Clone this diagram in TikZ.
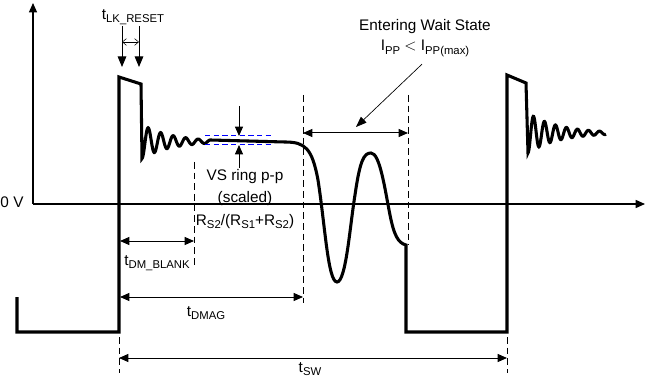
\documentclass[tikz,border=0pt]{standalone}
\usepackage{fontspec}
\setmainfont{Liberation Sans}
\usetikzlibrary{arrows.meta}
\newcommand{\lsub}[1]{\raisebox{-0.45ex}{\fontsize{8.5}{10}\selectfont #1}}

\begin{document}
\begin{tikzpicture}[x=0.75pt, y=-0.75pt,
    wave/.style={line width=2.3pt, line join=miter},
    axis/.style={line width=1pt, -{Triangle[length=7pt, width=6pt]}},
    dimarrow/.style={line width=0.75pt, {Triangle[length=7pt, width=6pt]}-{Triangle[length=7pt, width=6pt]}},
    guide/.style={line width=0.75pt, dash pattern=on 5pt off 3pt},
    level/.style={blue, line width=0.75pt, dash pattern=on 4pt off 2.5pt},
    lbl/.style={font=\fontsize{11.5}{13}\selectfont, inner sep=1pt, align=center}]

  \useasboundingbox (0,0) rectangle (646,381);

  \coordinate (org) at (33,204);
  \coordinate (ytop) at (33,3);
  \coordinate (xend) at (645,204);
  \draw[axis] (org) -- (ytop);
  \draw[axis] (org) -- (xend);
  \node[lbl] (zero) at (12,202) {0 V};

  \draw[wave] (17,297) -- (17,332) -- (119,332) -- (119,77) -- (141,84) -- (142,158)
    -- plot[domain=142:210, samples=180] (\x, {141.5+17*exp(-(\x-142)/29)*cos((\x-142)/12.5*360)})
    -- (285,142)
    .. controls (305,142) and (312,148) .. (318,180)
    .. controls (325,225) and (328,282) .. (337,282)
    .. controls (346,282) and (350,225) .. (355,195)
    .. controls (360,160) and (364,153) .. (371,153)
    .. controls (380,153) and (385,190) .. (390,215)
    .. controls (394,235) and (398,243) .. (406,245)
    -- (406,332) -- (507,332) -- (507,75) -- (526,83) -- (528,153)
    -- plot[domain=528:606, samples=180] (\x, {133+20*exp(-(\x-528)/30)*cos((\x-528)/11*360)});

  % guides
  \coordinate (gA1) at (119,337); \coordinate (gA2) at (119,373);
  \coordinate (gB1) at (194,162); \coordinate (gB2) at (194,268);
  \coordinate (gC1) at (303,95);  \coordinate (gC2) at (303,303);
  \coordinate (gD1) at (408,95);  \coordinate (gD2) at (408,245);
  \coordinate (gE1) at (507,337); \coordinate (gE2) at (507,373);
  \foreach \g in {A,B,C,D,E}
    \draw[guide] (g\g1) -- (g\g2);

  % t_LK_RESET
  \node[lbl] (lk) at (133,17) {t\lsub{LK\_RESET}};
  \coordinate (lkA) at (122,26); \coordinate (lkAe) at (122,67);
  \coordinate (lkB) at (139,26); \coordinate (lkBe) at (139,67);
  \draw[line width=0.75pt, -{Triangle[length=8pt, width=6.5pt]}] (lkA) -- (lkAe);
  \draw[line width=0.75pt, -{Triangle[length=8pt, width=6.5pt]}] (lkB) -- (lkBe);
  \coordinate (lkm1) at (122,42); \coordinate (lkm2) at (139,42);
  \draw[line width=0.4pt, {Straight Barb[length=3pt, width=5pt]}-{Straight Barb[length=3pt, width=5pt]}] (lkm1) -- (lkm2);

  % VS ring
  \coordinate (rt) at (205,136); \coordinate (rte) at (271,136);
  \coordinate (rb) at (205,145); \coordinate (rbe) at (271,145);
  \draw[level] (rt) -- (rte);
  \draw[level] (rb) -- (rbe);
  \coordinate (vsA) at (239,106); \coordinate (vsAe) at (239,136);
  \coordinate (vsB) at (239,168); \coordinate (vsBe) at (239,145);
  \draw[line width=0.75pt, -{Triangle[length=7pt, width=6pt]}] (vsA) -- (vsAe);
  \draw[line width=0.75pt, -{Triangle[length=7pt, width=6pt]}] (vsB) -- (vsBe);
  \node[lbl, font=\fontsize{11.5}{17}\selectfont] (vs) at (245,199)
    {VS ring p-p\\(scaled)\\R\lsub{S2}/(R\lsub{S1}+R\lsub{S2})};

  % wait state
  \node[lbl, font=\fontsize{11.5}{15}\selectfont] (ws) at (425,38)
    {Entering Wait State\\I\lsub{PP} $<$ I\lsub{PP(max)}};
  \coordinate (wsA) at (303,133); \coordinate (wsB) at (408,133);
  \draw[dimarrow] (wsA) -- (wsB);
  \coordinate (wsT) at (356,127);
  \draw[line width=0.5pt, -{Triangle[length=8pt, width=6pt]}] (ws.south) ++(-3,6) -- (wsT);

  % timing
  \coordinate (bl1) at (120,241); \coordinate (bl2) at (194,241);
  \draw[dimarrow] (bl1) -- (bl2);
  \node[lbl] (tbl) at (157,263) {t\lsub{DM\_BLANK}};
  \coordinate (dm1) at (120,297); \coordinate (dm2) at (303,297);
  \draw[dimarrow] (dm1) -- (dm2);
  \node[lbl] (tdm) at (206,313) {t\lsub{DMAG}};
  \coordinate (sw1) at (119,358); \coordinate (sw2) at (507,358);
  \draw[dimarrow] (sw1) -- (sw2);
  \node[lbl] (tsw) at (310,369) {t\lsub{SW}};
\end{tikzpicture}
\end{document}
